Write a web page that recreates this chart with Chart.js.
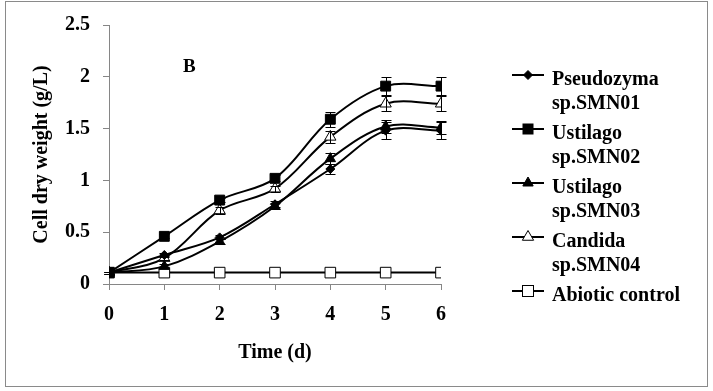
<!DOCTYPE html>
<html>
<head>
<meta charset="utf-8">
<script src="https://cdn.jsdelivr.net/npm/chart.js@4.4.0/dist/chart.umd.min.js"></script>
<style>
  html, body { margin:0; padding:0; background:#fff; }
  #wrap { position:relative; width:713px; height:391px; overflow:hidden; font-family:"Liberation Serif","Times New Roman",serif; font-weight:bold; color:#000; }
  #frame { position:absolute; left:5px; top:1px; width:701px; height:384px; border:1px solid #8a8a8a; pointer-events:none; }
  canvas { position:absolute; left:0; top:0; }
  .lg { position:absolute; left:552px; font-size:20px; line-height:24px; white-space:nowrap; }
  .lm { position:absolute; left:508px; }
  #blabel { position:absolute; left:183px; top:56px; font-size:19px; line-height:20px; }
</style>
</head>
<body>
<div id="wrap">
  <canvas id="c" width="713" height="391"></canvas>
  <div id="blabel">B</div>
  <div id="legend"></div>
  <div id="frame"></div>
</div>
<script>
// ---- data ----
const days = [0, 1, 2, 3, 4, 5, 6];
const seriesNames = [["Pseudozyma", "sp.SMN01"], ["Ustilago", "sp.SMN02"], ["Ustilago", "sp.SMN03"], ["Candida", "sp.SMN04"], ["Abiotic control"]];
const smn01 = [0.11, 0.28, 0.45, 0.77, 1.11, 1.48, 1.48];
const smn02 = [0.11, 0.46, 0.81, 1.02, 1.59, 1.91, 1.91];
const smn03 = [0.11, 0.17, 0.41, 0.75, 1.21, 1.52, 1.51];
const smn04 = [0.11, 0.25, 0.71, 0.92, 1.42, 1.74, 1.74];
const abiotic = [0.11, 0.11, 0.11, 0.11, 0.11, 0.11, 0.11];
const err01 = [0.01, 0.02, 0.02, 0.03, 0.05, 0.08, 0.08];
const err02 = [0.01, 0.02, 0.02, 0.03, 0.07, 0.09, 0.09];
const err03 = [0.01, 0.02, 0.02, 0.03, 0.05, 0.06, 0.06];
const err04 = [0.01, 0.02, 0.03, 0.03, 0.06, 0.07, 0.07];
const err05 = [0, 0, 0, 0, 0, 0, 0];
const yTicks = [0, 0.5, 1, 1.5, 2, 2.5];
const yTickLabels = ["0", "0.5", "1", "1.5", "2", "2.5"];
const yTitle = "Cell dry weight (g/L)";
const xTitle = "Time (d)";

const FONT = '"Liberation Serif", "Times New Roman", serif';
Chart.defaults.font.family = FONT;
Chart.defaults.font.weight = 'bold';
Chart.defaults.color = '#000';

const styles = [
  { pointStyle: 'rectRot', radius: 4.5, fill: '#000' },
  { pointStyle: 'rect', radius: 7, fill: '#000' },
  { pointStyle: 'triangle', radius: 6, fill: '#000' },
  { pointStyle: 'triangle', radius: 6.5, fill: '#fff' },
  { pointStyle: 'rect', radius: 7.5, fill: '#fff' }
];
const values = [smn01, smn02, smn03, smn04, abiotic];
const errors = [err01, err02, err03, err04, err05];

const datasets = values.map((vals, i) => ({
  label: seriesNames[i].join(' '),
  data: days.map((d, k) => ({ x: d, y: vals[k] })),
  errs: errors[i],
  borderColor: '#000',
  borderWidth: 2,
  tension: i === 4 ? 0 : 0.35,
  pointStyle: styles[i].pointStyle,
  pointRadius: styles[i].radius,
  pointBackgroundColor: styles[i].fill,
  pointBorderColor: '#000',
  pointBorderWidth: 1,
  fill: false
}));

const errorBars = {
  id: 'errorBars',
  afterDatasetsDraw(chart) {
    const ctx = chart.ctx;
    const xs = chart.scales.x, ys = chart.scales.y;
    ctx.save();
    ctx.strokeStyle = '#000';
    ctx.lineWidth = 1;
    chart.data.datasets.forEach(ds => {
      ds.data.forEach((p, k) => {
        const e = ds.errs[k];
        if (!e) return;
        const x = Math.round(xs.getPixelForValue(p.x)) + 0.5;
        const y1 = Math.round(ys.getPixelForValue(p.y + e)) + 0.5;
        const y2 = Math.round(ys.getPixelForValue(p.y - e)) + 0.5;
        ctx.beginPath();
        ctx.moveTo(x, y1); ctx.lineTo(x, y2);
        ctx.moveTo(x - 5, y1); ctx.lineTo(x + 5, y1);
        ctx.moveTo(x - 5, y2); ctx.lineTo(x + 5, y2);
        ctx.stroke();
      });
    });
    ctx.restore();
  }
};

const axisGray = '#868686';
new Chart(document.getElementById('c'), {
  type: 'line',
  data: { datasets },
  plugins: [errorBars],
  options: {
    responsive: false,
    animation: false,
    devicePixelRatio: 1,
    layout: { padding: { left: 5, top: 24, right: 272, bottom: 0 } },
    plugins: { legend: { display: false }, tooltip: { enabled: false } },
    scales: {
      x: {
        type: 'linear', min: 0, max: 6,
        afterFit(s) { s.height = 107; },
        ticks: { stepSize: 1, padding: 13, font: { size: 20, weight: 'bold' }, color: '#000' },
        grid: { display: true, drawOnChartArea: false, drawTicks: true, tickLength: 6, color: axisGray },
        border: { display: true, color: axisGray, width: 1 },
        title: { display: true, text: xTitle, font: { size: 20, weight: 'bold' }, padding: { top: 0, bottom: 26 }, color: '#000' }
      },
      y: {
        type: 'linear', min: 0, max: 2.5,
        afterFit(s) { s.width = 104; },
        afterBuildTicks(s) { s.ticks = yTicks.map(v => ({ value: v })); },
        ticks: {
          padding: 13, font: { size: 20, weight: 'bold' }, color: '#000',
          callback(v) { const k = yTicks.indexOf(v); return k >= 0 ? yTickLabels[k] : String(v); }
        },
        grid: { display: true, drawOnChartArea: false, drawTicks: true, tickLength: 6, color: axisGray },
        border: { display: true, color: axisGray, width: 1 },
        title: { display: true, text: yTitle, font: { size: 20, weight: 'bold' }, padding: { top: 25, bottom: 0 }, color: '#000' }
      }
    }
  }
});

// ---- legend (HTML text, SVG markers) ----
const legend = document.getElementById('legend');
function markerSvg(i) {
  const st = styles[i];
  let shape = '';
  const cx = 20, cy = 8;
  if (st.pointStyle === 'rectRot') {
    shape = `<polygon points="${cx},${cy-4.5} ${cx+4.5},${cy} ${cx},${cy+4.5} ${cx-4.5},${cy}" fill="${st.fill}" stroke="#000" stroke-width="1"/>`;
  } else if (st.pointStyle === 'rect') {
    const h = i === 4 ? 5.5 : 5;
    shape = `<rect x="${cx-h}" y="${cy-h}" width="${2*h}" height="${2*h}" fill="${st.fill}" stroke="#000" stroke-width="1"/>`;
  } else {
    const r = st.radius;
    shape = `<polygon points="${cx},${cy-r} ${cx+r*0.866},${cy+r/2} ${cx-r*0.866},${cy+r/2}" fill="${st.fill}" stroke="#000" stroke-width="1"/>`;
  }
  return `<svg width="40" height="16" viewBox="0 0 40 16"><line x1="4" y1="${cy}" x2="36" y2="${cy}" stroke="#000" stroke-width="2"/>${shape}</svg>`;
}
seriesNames.forEach((lines, i) => {
  const m = document.createElement('div');
  m.className = 'lm';
  m.style.top = (75 + 54 * i - 8) + 'px';
  m.innerHTML = markerSvg(i);
  legend.appendChild(m);
  const t = document.createElement('div');
  t.className = 'lg';
  t.style.top = (66 + 54 * i) + 'px';
  t.innerHTML = lines.join('<br>');
  legend.appendChild(t);
});
</script>
</body>
</html>
